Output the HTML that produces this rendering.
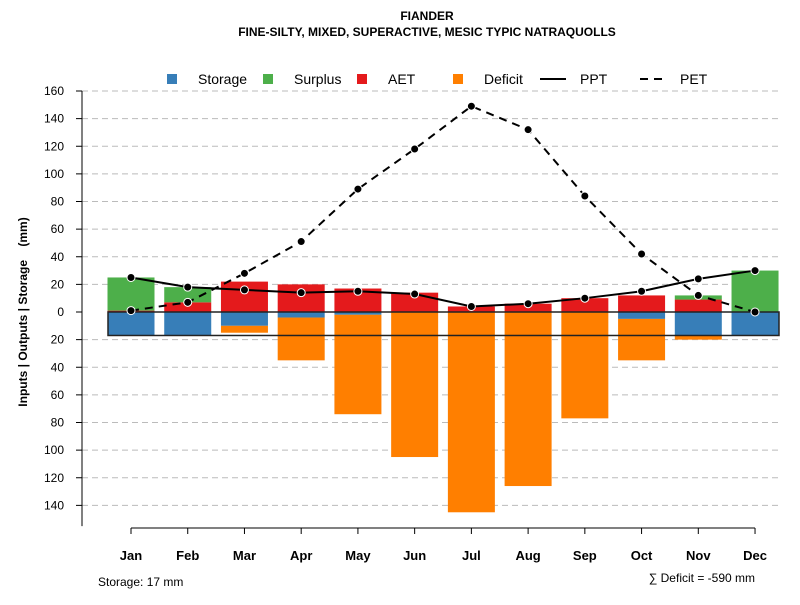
<!DOCTYPE html>
<html><head><meta charset="utf-8"><style>
body{margin:0;background:#fff}
svg text{font-family:"Liberation Sans",sans-serif}
</style></head><body>
<svg id="chart" width="800" height="600">
<text x="427" y="20" text-anchor="middle" font-size="12" font-weight="bold">FIANDER</text>
<text x="427" y="36" text-anchor="middle" font-size="12" font-weight="bold">FINE-SILTY, MIXED, SUPERACTIVE, MESIC TYPIC NATRAQUOLLS</text>
<text transform="translate(27,312) rotate(-90)" text-anchor="middle" font-size="12" font-weight="bold" xml:space="preserve">Inputs | Outputs | Storage    (mm)</text>
<text x="98" y="586" font-size="12">Storage: 17 mm</text>
<text x="755" y="582" text-anchor="end" font-size="12">∑ Deficit = -590 mm</text>
<g id="legend"></g>
<g id="grid"></g><g id="bars"></g><g id="lines"></g><g id="axes"></g>
</svg>
<script>
const months=["Jan","Feb","Mar","Apr","May","Jun","Jul","Aug","Sep","Oct","Nov","Dec"];
const ppt=[25,18,16,14,15,13,4,6,10,15,24,30];
const pet=[1,7,28,51,89,118,149,132,84,42,12,0];
const aet=[1,7,22,20,17,14,4,6,10,12,9,0];
const surplus=[24,11,0,0,0,0,0,0,0,0,3,30];
const storage=[17,17,10,4,2,0,0,0,0,5,17,17];
const deficit=[0,0,5,31,72,105,145,126,77,30,3,0];
const yTicks=[160,140,120,100,80,60,40,20,0,20,40,60,80,100,120,140];
const yVals=[160,140,120,100,80,60,40,20,0,-20,-40,-60,-80,-100,-120,-140];
const maxStorage=17;
const NS="http://www.w3.org/2000/svg";
const y=v=>312-v*(221/160);
const x=i=>131+i*56.73;
const bw=47;
function mk(tag,attrs,parent){const e=document.createElementNS(NS,tag);for(const k in attrs)e.setAttribute(k,attrs[k]);document.getElementById(parent).appendChild(e);return e;}
yVals.forEach((v,i)=>{
  if(v!==0){const g=mk('line',{x1:82,x2:780,y1:y(v),y2:y(v),stroke:'#bbb','stroke-dasharray':'6,4'},'grid');
  
  }
  const t=mk('line',{x1:76,x2:82,y1:y(v),y2:y(v),stroke:'#000'},'axes');
  
  
  const l=mk('text',{x:64,y:y(v)+4,'text-anchor':'end','font-size':12},'axes');l.textContent=yTicks[i];
  
  
});
const ax=mk('line',{x1:82,x2:82,y1:y(160),y2:y(-155),stroke:'#000'},'axes');


const bx=mk('line',{x1:x(0),x2:x(11),y1:528,y2:528,stroke:'#000'},'axes');


function bar(i,v0,v1,c,name){if(v0===v1)return;const r=mk('rect',{x:x(i)-bw/2,y:Math.min(y(v0),y(v1)),width:bw,height:Math.abs(y(v0)-y(v1)),fill:c},'bars');
  
  }
months.forEach((m,i)=>{
  bar(i,0,aet[i],'#E41A1C','aet-bar-'+m.toLowerCase());
  bar(i,aet[i],aet[i]+surplus[i],'#4DAF4A','surplus-bar-'+m.toLowerCase());
  bar(i,0,-storage[i],'#377EB8','storage-bar-'+m.toLowerCase());
  bar(i,-storage[i],-storage[i]-deficit[i],'#FF7F00','deficit-bar-'+m.toLowerCase());
  const t=mk('line',{x1:x(i),x2:x(i),y1:528,y2:534,stroke:'#000'},'axes');
  
  
  const l=mk('text',{x:x(i),y:560,'text-anchor':'middle','font-size':13,'font-weight':'bold'},'axes');l.textContent=m;
  
  
});
const box=mk('rect',{x:108,y:y(0),width:671,height:y(-maxStorage)-y(0),fill:'none',stroke:'#222','stroke-width':1.5},'bars');


function series(vals,dash,name){
  const p=mk('polyline',{points:vals.map((v,i)=>x(i)+','+y(v)).join(' '),fill:'none',stroke:'#000','stroke-width':2,'stroke-dasharray':dash},'lines');
  
  
  vals.forEach((v,i)=>{const c=mk('circle',{cx:x(i),cy:y(v),r:4,fill:'#000',stroke:'#fff','stroke-width':1},'lines');
    
    });
}
series(ppt,'none','ppt');
series(pet,'8,6','pet');
const leg=[['sq','#377EB8','Storage',172],['sq','#4DAF4A','Surplus',268],['sq','#E41A1C','AET',362],['sq','#FF7F00','Deficit',458],['ln','none','PPT',553],['ln','8,6','PET',653]];
leg.forEach(e=>{
  if(e[0]==='sq'){const r=mk('rect',{x:e[3]-5,y:74,width:10,height:10,fill:e[1]},'legend');
    
    }
  else{const l=mk('line',{x1:e[3]-13,x2:e[3]+13,y1:79,y2:79,stroke:'#000','stroke-width':2,'stroke-dasharray':e[1]},'legend');
    
    }
  const t=mk('text',{x:e[3]+(e[0]==='sq'?26:27),y:84,'font-size':14},'legend');t.textContent=e[2];
  
  
});
</script>
</body></html>
